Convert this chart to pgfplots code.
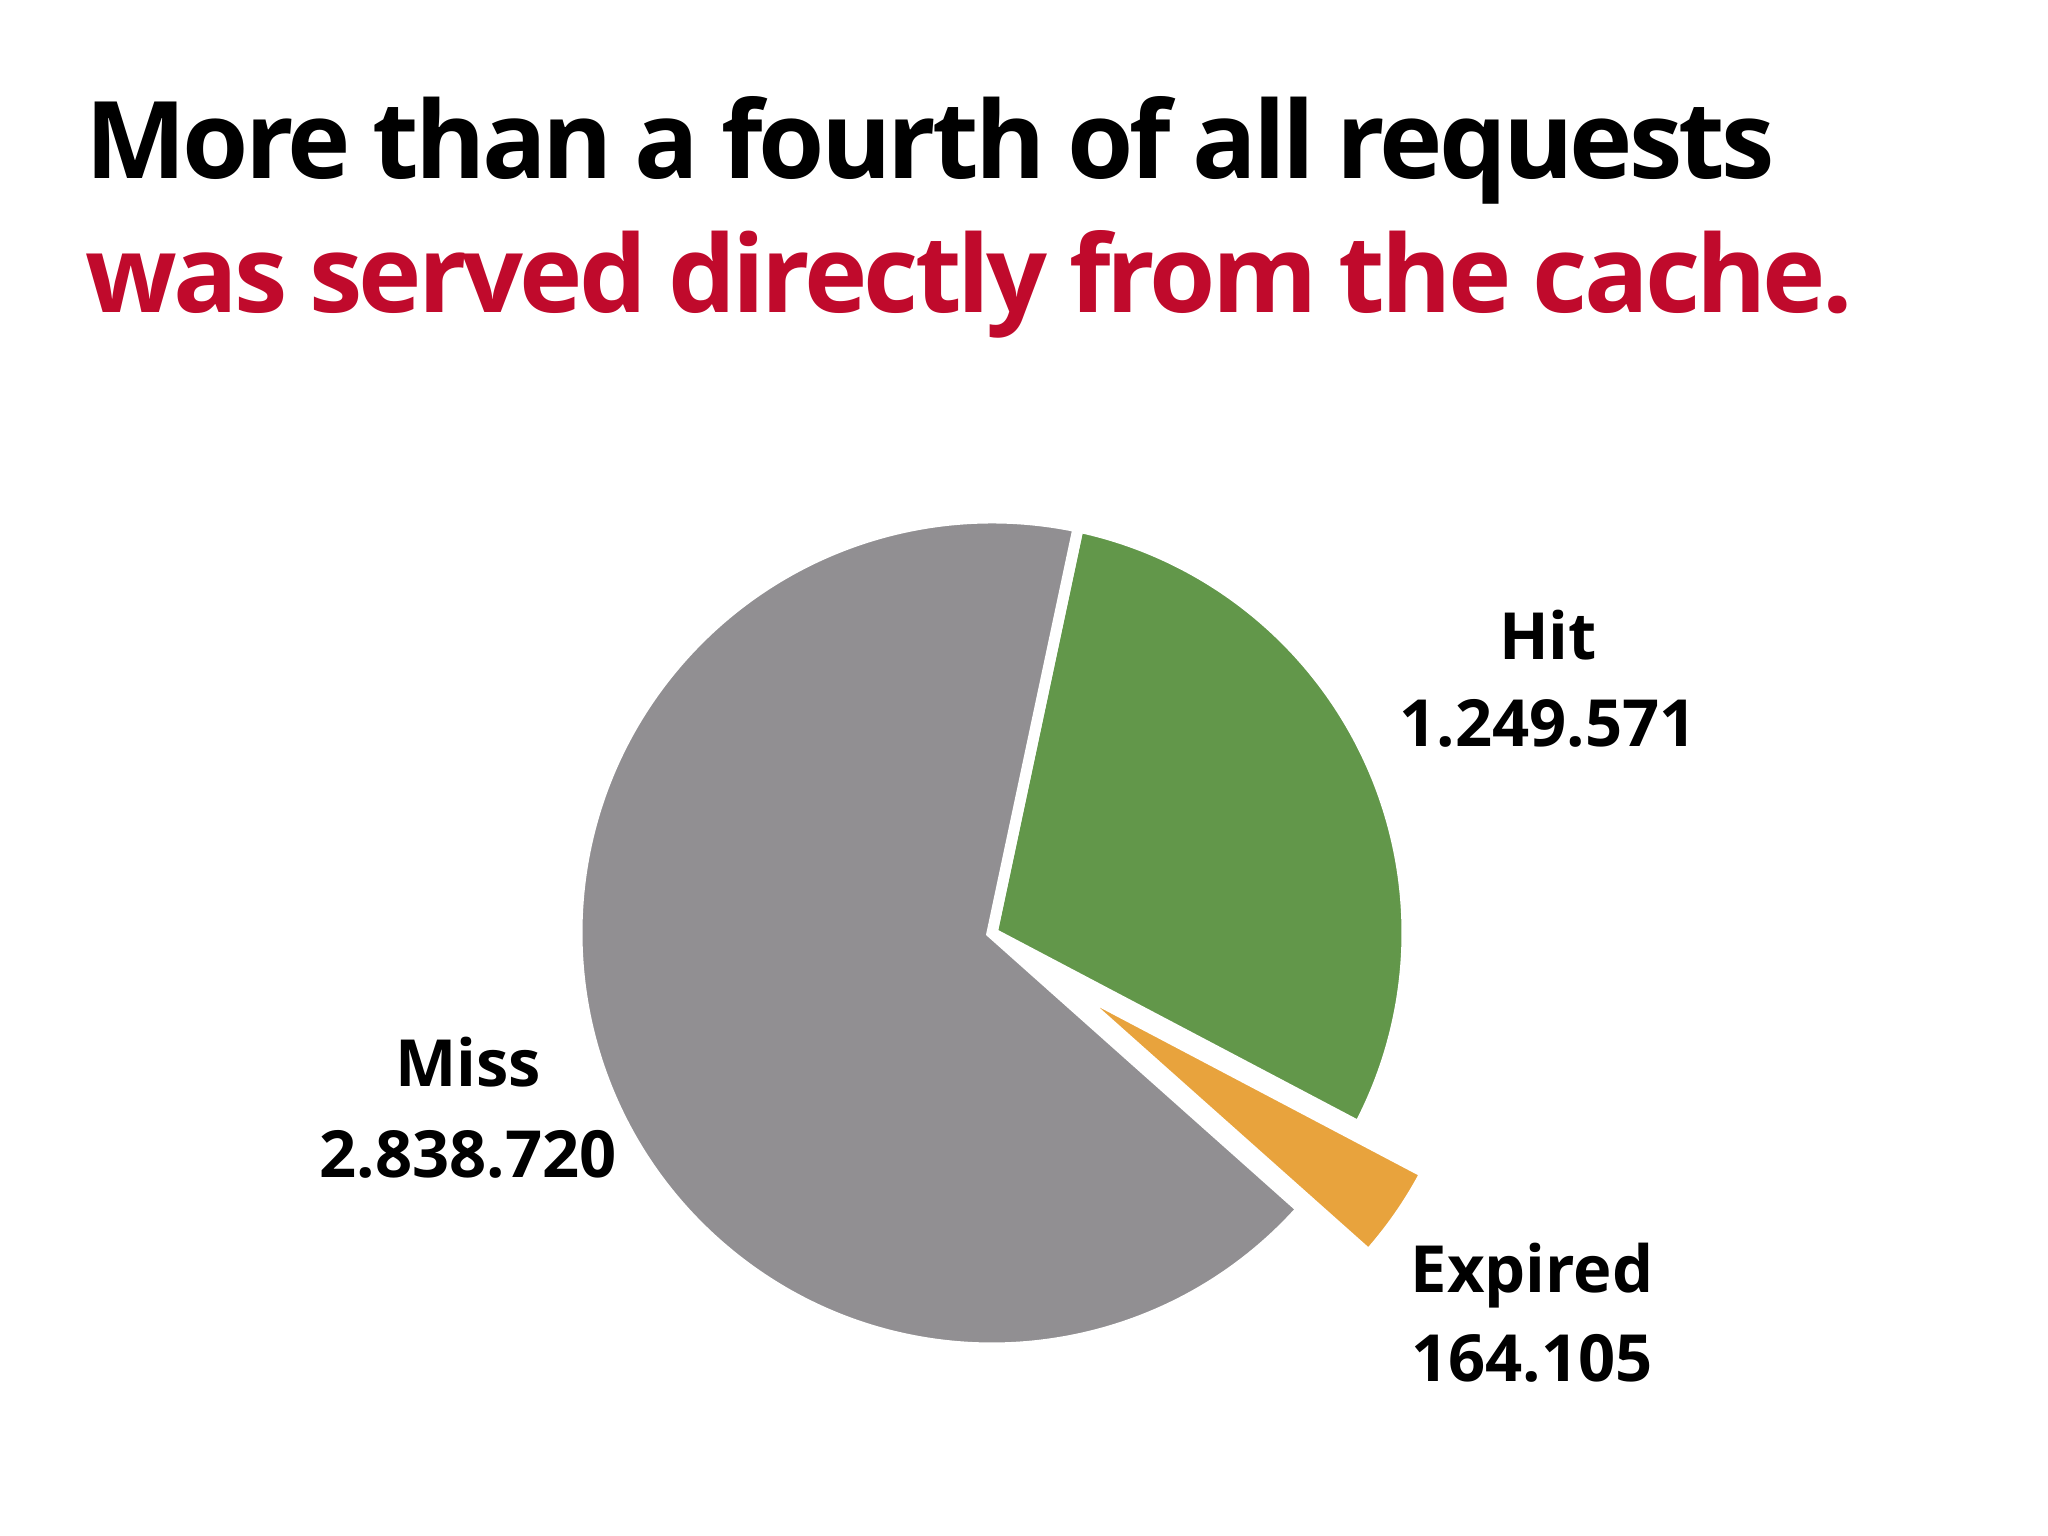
\documentclass[border=0pt]{standalone}
\usepackage{fontspec}
\setmainfont{Open Sans}
\newfontfamily\titlefont[LetterSpace=-3.6, WordSpace=0.9]{Open Sans}
\usepackage{pgfplots}
\usepackage{pgfplotstable}
\pgfplotsset{compat=1.18}

\definecolor{missgray}{HTML}{918F92}
\definecolor{hitgreen}{HTML}{62974A}
\definecolor{expiredorange}{HTML}{E8A33D}
\definecolor{titlered}{HTML}{C00A2C}

% cache requests, in the order the slices are drawn (clockwise from the top)
\pgfplotstableread{
label   value
Hit     1249571
Expired 164105
Miss    2838720
}\requests

\pgfplotstablegetelem{0}{value}\of\requests \edef\hitv{\pgfplotsretval}
\pgfplotstablegetelem{1}{value}\of\requests \edef\expv{\pgfplotsretval}
\pgfplotstablegetelem{2}{value}\of\requests \edef\missv{\pgfplotsretval}

% slice angles
\edef\total{\fpeval{\hitv+\expv+\missv}}
\def\startang{78.0}
\edef\hitend{\fpeval{\startang-360*\hitv/\total}}
\edef\expend{\fpeval{\hitend-360*\expv/\total}}
\edef\missend{\fpeval{\expend-360*\missv/\total}}
\edef\expmid{\fpeval{(\hitend+\expend)/2}}

\begin{document}
\begin{tikzpicture}
\begin{axis}[
  width=20.48cm, height=15.36cm, scale only axis,
  xmin=0, xmax=2048, ymin=0, ymax=1536,
  hide axis, clip=false,
]
\path (axis cs:0,0) rectangle (axis cs:2048,1536);

% title
\node[anchor=base west, font=\fontsize{30.5}{36}\selectfont\titlefont\bfseries]
  at (axis cs:73,1357) {More than a fourth of all requests};
\node[anchor=base west, font=\fontsize{30.5}{36}\selectfont\titlefont\bfseries, text=titlered]
  at (axis cs:73,1223) {was served directly from the cache.};

% slices, white edges between them, Expired pulled out
\tikzset{slice/.style={draw=white, line width=0.11cm}}
\fill[hitgreen, slice] (axis cs:992,603) -- ++(\startang:4.15cm)
  arc[start angle=\startang, end angle=\hitend, radius=4.15cm] -- cycle;
\fill[missgray, slice] (axis cs:992,603) -- ++(\expend:4.15cm)
  arc[start angle=\expend, end angle=\missend, radius=4.15cm] -- cycle;
\fill[expiredorange, slice] (axis cs:992,603) ++(\expmid:0.84cm) -- ++(\hitend:4.12cm)
  arc[start angle=\hitend, end angle=\expend, radius=4.12cm] -- cycle;

% labels
\tikzset{lbl/.style={anchor=base, font=\fontsize{18.5}{22}\selectfont\bfseries}}
\node[lbl] at (axis cs:1548,876) {Hit};
\node[lbl] at (axis cs:1548,789) {1.249.571};
\node[lbl] at (axis cs:468,449) {Miss};
\node[lbl] at (axis cs:468,358) {2.838.720};
\node[lbl] at (axis cs:1532,243) {Expired};
\node[lbl] at (axis cs:1532,154) {164.105};
\end{axis}
\end{tikzpicture}
\end{document}
